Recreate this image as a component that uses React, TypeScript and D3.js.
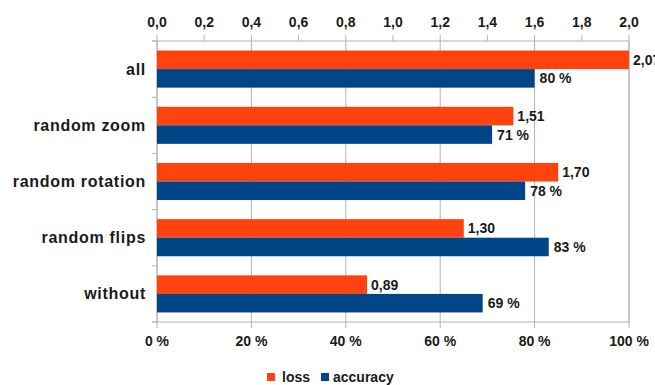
import React from "react";
import * as d3 from "d3";

// Augmentation variants, listed top to bottom
const categories = ["all", "random zoom", "random rotation", "random flips", "without"];
// Loss per variant (top axis, 0–2)
const lossValues = [2.07, 1.51, 1.7, 1.3, 0.89];
// Accuracy per variant in percent (bottom axis, 0–100)
const accuracyValues = [80, 71, 78, 83, 69];
const lossTicks = [0, 0.2, 0.4, 0.6, 0.8, 1.0, 1.2, 1.4, 1.6, 1.8, 2.0];
const accuracyTicks = [0, 20, 40, 60, 80, 100];
const seriesNames = ["loss", "accuracy"];

const W = 655;
const H = 385;
const left = 157;
const right = 629;
const top = 41;
const bottom = 322;

const LOSS_COLOR = "#ff420e";
const ACC_COLOR = "#004586";
const GRID = "#b3b3b3";
const TEXT = "#1a1a1a";
const FONT = "'Liberation Sans', Arial, sans-serif";

const locale = d3.formatLocale({
  decimal: ",",
  thousands: ".",
  grouping: [3],
  currency: ["", " €"],
});
const fmtTick = locale.format(".1f");
const fmtLoss = locale.format(".2f");

export default function App() {
  const xLoss = d3.scaleLinear().domain([0, 2]).range([left, right]);
  const xAcc = d3.scaleLinear().domain([0, 100]).range([left, right]);
  const y = d3
    .scaleBand<string>()
    .domain(categories)
    .range([top, bottom])
    .paddingInner(0.34)
    .paddingOuter(0.17);
  const bw = y.bandwidth() / 2;
  const step = y.step();

  const rows = categories.map((c, i) => ({
    c,
    loss: lossValues[i],
    acc: accuracyValues[i],
  }));

  // category separators on the left axis
  const sepYs = d3.range(categories.length + 1).map((i) => top + i * step);

  return (
    <svg
      width={W}
      height={H}
      viewBox={`0 0 ${W} ${H}`}
      style={{ position: "absolute", left: 0, top: 0, background: "#fff" }}
      fontFamily={FONT}
    >
      <defs>
        <clipPath id="plot-clip">
          <rect x={left} y={top} width={right - left} height={bottom - top} />
        </clipPath>
      </defs>

      {/* vertical gridlines */}
      {accuracyTicks.map((t) => (
        <line
          key={"g" + t}
          x1={xAcc(t)}
          x2={xAcc(t)}
          y1={top}
          y2={bottom}
          stroke={GRID}
          strokeWidth={t === 100 ? 1.5 : 1}
        />
      ))}

      {/* top axis (loss) */}
      <line x1={left - 5} x2={right} y1={top} y2={top} stroke={GRID} />
      {lossTicks.map((t) => (
        <g key={"lt" + t}>
          <line x1={xLoss(t)} x2={xLoss(t)} y1={top - 6} y2={top} stroke={GRID} />
          <text
            x={xLoss(t)}
            y={27}
            textAnchor="middle"
            fontSize={14}
            fontWeight="bold"
            fill={TEXT}
          >
            {fmtTick(t)}
          </text>
        </g>
      ))}

      {/* bottom axis (accuracy) */}
      <line x1={left - 5} x2={right} y1={bottom} y2={bottom} stroke={GRID} />
      {accuracyTicks.map((t) => (
        <g key={"at" + t}>
          <line x1={xAcc(t)} x2={xAcc(t)} y1={bottom} y2={bottom + 6} stroke={GRID} />
          <text
            x={xAcc(t)}
            y={346}
            textAnchor="middle"
            fontSize={14}
            fontWeight="bold"
            fill={TEXT}
          >
            {t} %
          </text>
        </g>
      ))}

      {/* left axis */}
      <line x1={left} x2={left} y1={top} y2={bottom} stroke={GRID} />
      {sepYs.map((sy, i) => (
        <line key={"s" + i} x1={left - 5} x2={left} y1={sy} y2={sy} stroke={GRID} />
      ))}

      {/* bars */}
      <g clipPath="url(#plot-clip)">
        {rows.map((r) => {
          const y0 = y(r.c)!;
          return (
            <g key={r.c}>
              <rect
                x={left}
                y={y0}
                width={xLoss(r.loss) - left}
                height={bw}
                fill={LOSS_COLOR}
              />
              <rect
                x={left}
                y={y0 + bw}
                width={xAcc(r.acc) - left}
                height={bw}
                fill={ACC_COLOR}
              />
            </g>
          );
        })}
      </g>

      {/* value labels */}
      {rows.map((r) => {
        const y0 = y(r.c)!;
        const lx = Math.min(xLoss(r.loss), right);
        return (
          <g key={"v" + r.c} fontSize={14} fontWeight="bold" fill={TEXT}>
            <text x={lx + 4} y={y0 + bw / 2 + 5}>
              {fmtLoss(r.loss)}
            </text>
            <text x={xAcc(r.acc) + 5} y={y0 + bw + bw / 2 + 5}>
              {r.acc} %
            </text>
          </g>
        );
      })}

      {/* category labels */}
      {rows.map((r) => (
        <text
          key={"c" + r.c}
          x={146}
          y={y(r.c)! + y.bandwidth() / 2 + 5.5}
          textAnchor="end"
          fontSize={16}
          fontWeight="bold"
          letterSpacing={0.7}
          fill={TEXT}
        >
          {r.c}
        </text>
      ))}

      {/* legend */}
      <g fontSize={14} fontWeight="bold" fill={TEXT}>
        <rect x={267} y={373} width={8} height={8} fill={LOSS_COLOR} />
        <text x={282} y={382}>
          {seriesNames[0]}
        </text>
        <rect x={321} y={373} width={8} height={8} fill={ACC_COLOR} />
        <text x={333} y={382}>
          {seriesNames[1]}
        </text>
      </g>
    </svg>
  );
}
